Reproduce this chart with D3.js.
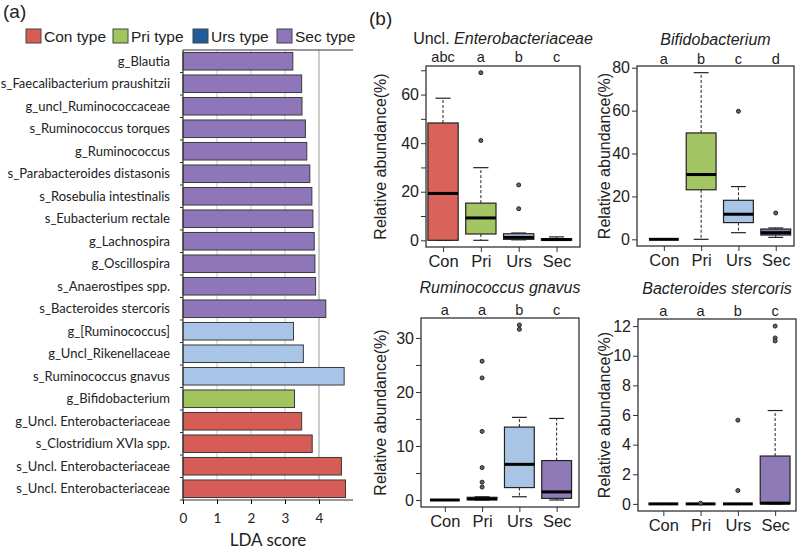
<!DOCTYPE html>
<html>
<head>
<meta charset="utf-8">
<script src="https://cdn.jsdelivr.net/npm/d3@7"></script>
<style>
  html, body { margin: 0; padding: 0; background: #fff; }
  svg { display: block; }
</style>
</head>
<body>
<svg id="chart" width="800" height="550"></svg>
<script>
// ---------------- DATA ----------------
// Panel (a): LEfSe LDA scores (top to bottom)
const lefseTaxa = [
  "g_Blautia", "s_Faecalibacterium praushitzii", "g_uncl_Ruminococcaceae",
  "s_Ruminococcus torques", "g_Ruminococcus", "s_Parabacteroides distasonis",
  "s_Rosebulia intestinalis", "s_Eubacterium rectale", "g_Lachnospira",
  "g_Oscillospira", "s_Anaerostipes spp.", "s_Bacteroides stercoris",
  "g_[Ruminococcus]", "g_Uncl_Rikenellaceae", "s_Ruminococcus gnavus",
  "g_Bifidobacterium", "g_Uncl. Enterobacteriaceae", "s_Clostridium XVIa spp.",
  "s_Uncl. Enterobacteriaceae", "s_Uncl. Enterobacteriaceae"
];
const lefseScores = [3.23, 3.49, 3.50, 3.60, 3.64, 3.73, 3.79, 3.82, 3.86, 3.88, 3.90, 4.20,
  3.25, 3.54, 4.74, 3.28, 3.49, 3.80, 4.66, 4.78];
const lefseGroups = ["Sec","Sec","Sec","Sec","Sec","Sec","Sec","Sec","Sec","Sec","Sec","Sec",
  "Urs","Urs","Urs","Pri","Con","Con","Con","Con"];
const ldaTicks = [0, 1, 2, 3, 4];
const legendKeys = ["Con", "Pri", "Urs", "Sec"];
const legendLabels = ["Con type", "Pri type", "Urs type", "Sec type"];

// Panel (b): box plot summaries [lowerWhisker, q1, median, q3, upperWhisker]
const groupNames = ["Con", "Pri", "Urs", "Sec"];
const enteroStats = [[0, 0, 19.3, 48.3, 58.5], [0, 2.6, 9.2, 15.3, 29.9], [0.2, 0.4, 1.2, 2.7, 3.0], [0, 0.05, 0.3, 0.6, 1.4]];
const enteroOutliers = [[], [69.0, 41.1], [22.8, 13.0], []];
const enteroLetters = ["abc", "a", "b", "c"];
const enteroTicks = [0, 10, 20, 30, 40, 50, 60, 70];
const enteroTickLabels = [0, 20, 40, 60];

const bifidoStats = [[0, 0, 0, 0, 0], [0, 23.1, 30.2, 49.6, 77.7], [3.1, 7.8, 11.7, 18.2, 24.6], [0.9, 2.0, 3.1, 4.8, 5.3]];
const bifidoOutliers = [[], [], [59.7], [12.3]];
const bifidoLetters = ["a", "b", "c", "d"];
const bifidoTicks = [0, 20, 40, 60, 80];
const bifidoTickLabels = [0, 20, 40, 60, 80];

const gnavusStats = [[0, 0, 0, 0, 0], [0, 0.05, 0.2, 0.5, 0.6], [0.6, 2.3, 6.6, 13.5, 15.3], [0, 0.3, 1.5, 7.3, 15.1]];
const gnavusOutliers = [[], [25.7, 22.6, 12.7, 6.0, 3.3, 2.4], [32.4, 31.6], []];
const gnavusLetters = ["a", "a", "b", "c"];
const gnavusTicks = [0, 5, 10, 15, 20, 25, 30];
const gnavusTickLabels = [0, 10, 20, 30];

const stercorisStats = [[0, 0, 0, 0, 0], [0, 0, 0, 0, 0], [0, 0, 0, 0, 0], [0, 0, 0.05, 3.23, 6.3]];
const stercorisOutliers = [[], [0.05], [5.65, 0.9], [12.0, 11.2, 11.0]];
const stercorisLetters = ["a", "a", "b", "c"];
const stercorisTicks = [0, 2, 4, 6, 8, 10, 12];
const stercorisTickLabels = [0, 2, 4, 6, 8, 10, 12];

// ---------------- STYLE ----------------
const barColor = { Con: "#d65d55", Pri: "#a1c45d", Urs: "#a8c4e6", Sec: "#8e76b9" };
const legendColor = { Con: "#d65d55", Pri: "#a1c45d", Urs: "#1f5c9e", Sec: "#8e76b9" };
const boxColor = { Con: "#d9635b", Pri: "#a4c563", Urs: "#a9c5e6", Sec: "#9079b7" };
const labFont = "Lato, 'Open Sans', sans-serif";
const arial = "'Liberation Sans', Arial, sans-serif";
const ink = "#222";

const svg = d3.select("#chart");

// ---------------- PANEL (a) ----------------
svg.append("text").attr("x", 3).attr("y", 18).attr("font-family", arial)
  .attr("font-size", 19).attr("fill", ink).text("(a)");
svg.append("text").attr("x", 369).attr("y", 25).attr("font-family", arial)
  .attr("font-size", 19).attr("fill", ink).text("(b)");

// legend
const legendX = [26, 113, 193, 277];
legendKeys.forEach((k, i) => {
  svg.append("rect").attr("x", legendX[i]).attr("y", 29).attr("width", 15).attr("height", 14)
    .attr("fill", legendColor[k]).attr("stroke", "#444").attr("stroke-width", 1);
  svg.append("text").attr("x", legendX[i] + 18).attr("y", 42).attr("font-family", arial)
    .attr("font-size", 15.5).attr("fill", ink).text(legendLabels[i]);
});

const ax = { left: 183, right: 353, top: 50, bottom: 500 };
const xL = d3.scaleLinear().domain([0, 5]).range([ax.left, ax.left + 170]);
const yL = d3.scaleBand().domain(d3.range(lefseTaxa.length)).range([ax.top, ax.bottom]).paddingInner(0.22).paddingOuter(0.11);

// gridlines
svg.append("g").selectAll("line").data(ldaTicks.slice(1)).join("line")
  .attr("x1", d => xL(d)).attr("x2", d => xL(d)).attr("y1", ax.top).attr("y2", ax.bottom)
  .attr("stroke", d => d === 4 ? "#9a9a9a" : "#c8c8c8").attr("stroke-width", 1);

// top line
svg.append("line").attr("x1", ax.left).attr("x2", ax.right).attr("y1", ax.top).attr("y2", ax.top)
  .attr("stroke", "#333").attr("stroke-width", 1.2);

// bars
svg.append("g").selectAll("rect").data(lefseScores).join("rect")
  .attr("x", xL(0)).attr("y", (d, i) => yL(i))
  .attr("width", d => xL(d) - xL(0)).attr("height", yL.bandwidth())
  .attr("fill", (d, i) => barColor[lefseGroups[i]])
  .attr("stroke", "#3a3a3a").attr("stroke-width", 1);

// left axis with ticks at band boundaries
svg.append("line").attr("x1", ax.left).attr("x2", ax.left).attr("y1", ax.top).attr("y2", ax.bottom)
  .attr("stroke", "#333").attr("stroke-width", 1.2);
const step = (ax.bottom - ax.top) / lefseTaxa.length;
svg.append("g").selectAll("line").data(d3.range(1, lefseTaxa.length + 1)).join("line")
  .attr("x1", ax.left - 3).attr("x2", ax.left).attr("y1", d => ax.top + d * step).attr("y2", d => ax.top + d * step)
  .attr("stroke", "#333");
svg.append("g").selectAll("text").data(lefseTaxa).join("text")
  .attr("x", 170).attr("y", (d, i) => yL(i) + yL.bandwidth() / 2).attr("dy", "0.35em")
  .attr("text-anchor", "end").attr("font-family", labFont).attr("font-size", 13).attr("fill", ink)
  .text(d => d);

// bottom axis
const xAxisG = svg.append("g").attr("transform", `translate(0,${ax.bottom})`)
  .call(d3.axisBottom(xL).tickValues(ldaTicks).tickSize(4).tickPadding(9).tickFormat(d3.format("d")));
xAxisG.select(".domain").attr("d", `M${ax.left},0H${ax.right}`).attr("stroke", "#333").attr("stroke-width", 1.2);
xAxisG.selectAll("text").attr("font-family", labFont).attr("font-size", 13.5).attr("fill", ink);
svg.append("text").attr("x", 268).attr("y", 546).attr("text-anchor", "middle")
  .attr("font-family", labFont).attr("font-size", 17).attr("fill", ink).text("LDA score");

// ---------------- PANEL (b) ----------------
const panels = [
  { stats: enteroStats, out: enteroOutliers, letters: enteroLetters, ticks: enteroTicks, tickLabels: enteroTickLabels,
    x0: 426, x1: 580, y0: 66, y1: 247, xd: [0.55, 4.62], ylabX: 380,
    title: [["Uncl. ", false], ["Enterobacteriaceae", true]], titleY: 44, letterY: 62 },
  { stats: bifidoStats, out: bifidoOutliers, letters: bifidoLetters, ticks: bifidoTicks, tickLabels: bifidoTickLabels,
    x0: 637, x1: 794, y0: 66, y1: 246, xd: [0.28, 4.49], ylabX: 604,
    title: [["Bifidobacterium", true]], titleY: 45, letterY: 64 },
  { stats: gnavusStats, out: gnavusOutliers, letters: gnavusLetters, ticks: gnavusTicks, tickLabels: gnavusTickLabels,
    x0: 421, x1: 579, y0: 318, y1: 507, xd: [0.36, 4.6], ylabX: 380,
    title: [["Ruminococcus gnavus", true]], titleY: 293, letterY: 315 },
  { stats: stercorisStats, out: stercorisOutliers, letters: stercorisLetters, ticks: stercorisTicks, tickLabels: stercorisTickLabels,
    x0: 638, x1: 796, y0: 319, y1: 511, xd: [0.32, 4.56], ylabX: 604,
    title: [["Bacteroides stercoris", true]], titleY: 294, letterY: 316 }
];

panels.forEach(p => {
  const g = svg.append("g");
  const allVals = p.stats.flat().concat(p.out.flat());
  const [mn, mx] = d3.extent(allVals);
  const pad = (mx - mn) * 0.04;
  const y = d3.scaleLinear().domain([mn - pad, mx + pad]).range([p.y1, p.y0]);
  const x = d3.scaleLinear().domain(p.xd).range([p.x0, p.x1]);
  const bw = 0.8 * (x(2) - x(1));

  // boxes
  p.stats.forEach((s, i) => {
    const cx = x(i + 1);
    const col = boxColor[groupNames[i]];
    const [lo, q1, med, q3, hi] = s;
    if (hi > q3) {
      g.append("line").attr("x1", cx).attr("x2", cx).attr("y1", y(q3)).attr("y2", y(hi))
        .attr("stroke", ink).attr("stroke-dasharray", "3,2");
    }
    if (lo < q1) {
      g.append("line").attr("x1", cx).attr("x2", cx).attr("y1", y(q1)).attr("y2", y(lo))
        .attr("stroke", ink).attr("stroke-dasharray", "3,2");
    }
    [lo, hi].forEach(v => {
      g.append("line").attr("x1", cx - bw / 4).attr("x2", cx + bw / 4).attr("y1", y(v)).attr("y2", y(v))
        .attr("stroke", ink).attr("stroke-width", 1.2);
    });
    g.append("rect").attr("x", cx - bw / 2).attr("width", bw)
      .attr("y", y(q3)).attr("height", Math.max(0, y(q1) - y(q3)))
      .attr("fill", col).attr("stroke", ink).attr("stroke-width", 1.2);
    g.append("line").attr("x1", cx - bw / 2).attr("x2", cx + bw / 2).attr("y1", y(med)).attr("y2", y(med))
      .attr("stroke", "#000").attr("stroke-width", 3);
    p.out[i].forEach(v => {
      g.append("circle").attr("cx", cx).attr("cy", y(v)).attr("r", 2)
        .attr("fill", "#666").attr("stroke", ink).attr("stroke-width", 1);
    });
    g.append("text").attr("x", cx).attr("y", p.letterY).attr("text-anchor", "middle")
      .attr("font-family", arial).attr("font-size", 14.5).attr("fill", ink).text(p.letters[i]);
  });

  // frame
  g.append("rect").attr("x", p.x0).attr("y", p.y0).attr("width", p.x1 - p.x0).attr("height", p.y1 - p.y0)
    .attr("fill", "none").attr("stroke", "#333").attr("stroke-width", 1.3);

  // y axis
  const yAxis = g.append("g").attr("transform", `translate(${p.x0},0)`)
    .call(d3.axisLeft(y).tickValues(p.ticks).tickSize(5).tickPadding(2)
      .tickFormat(d => p.tickLabels.includes(d) ? d : ""));
  yAxis.select(".domain").remove();
  yAxis.selectAll("line").attr("stroke", "#333");
  yAxis.selectAll("text").attr("font-family", arial).attr("font-size", 16).attr("fill", ink);

  // x axis
  const xAxis = g.append("g").attr("transform", `translate(0,${p.y1})`)
    .call(d3.axisBottom(x).tickValues([1, 2, 3, 4]).tickSize(5).tickPadding(3)
      .tickFormat(d => groupNames[d - 1]));
  xAxis.select(".domain").remove();
  xAxis.selectAll("line").attr("stroke", "#333");
  xAxis.selectAll("text").attr("font-family", arial).attr("font-size", 16.5).attr("fill", ink);

  // y label
  g.append("text").attr("transform", `translate(${p.ylabX},${(p.y0 + p.y1) / 2}) rotate(-90)`)
    .attr("text-anchor", "middle").attr("dy", "0.35em")
    .attr("font-family", arial).attr("font-size", 16).attr("fill", ink).text("Relative abundance(%)");

  // title
  const t = g.append("text").attr("x", (p.x0 + p.x1) / 2).attr("y", p.titleY).attr("text-anchor", "middle")
    .attr("font-family", arial).attr("font-size", 16).attr("fill", ink);
  p.title.forEach(([s, it]) => {
    t.append("tspan").attr("font-style", it ? "italic" : "normal").text(s);
  });
});
</script>
</body>
</html>
